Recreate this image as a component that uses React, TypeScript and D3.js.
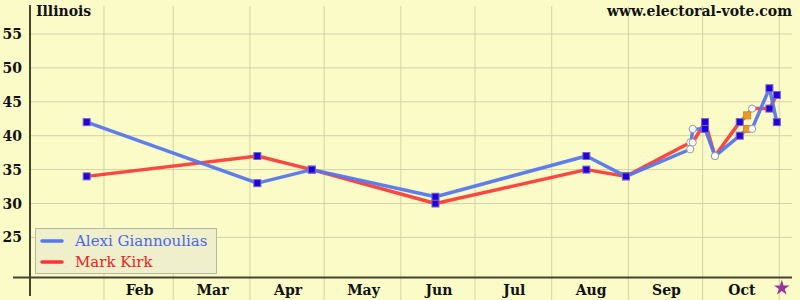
import React from "react";
import * as d3 from "d3";

const title = "Illinois";
const site = "www.electoral-vote.com";
const pollDates = ["2010-01-25","2010-04-04","2010-04-26","2010-06-15","2010-08-15","2010-08-31","2010-09-26","2010-09-27","2010-10-02","2010-10-06","2010-10-16","2010-10-19","2010-10-21","2010-10-28","2010-10-31"];
const giannoulias = [42,33,35,31,37,34,38,41,41,37,40,41,41,47,42];
const kirk = [34,37,35,30,35,34,39,39,42,37,42,43,44,44,46];
const pollType = ["square","square","square","square","square","square","circle","circle","square","circle","square","orange","circle","square","square"];
const yTicks = [25,30,35,40,45,50,55];
const monthLabels = ["Feb","Mar","Apr","May","Jun","Jul","Aug","Sep","Oct"];
const monthStarts = ["2010-02-01","2010-03-01","2010-04-01","2010-05-01","2010-06-01","2010-07-01","2010-08-01","2010-09-01","2010-10-01","2010-11-01"];
const electionDay = "2010-11-02";
const seriesNames = ["Alexi Giannoulias","Mark Kirk"];

const parse = (s: string) => { const [y,m,d] = s.split("-").map(Number); return new Date(Date.UTC(y, m-1, d)); };

const W = 800, H = 300;
const BG = "#fbfbc8";
const GRID = "#d2d2a8";
const AXIS = "#444433";
const BLUE = "#5577ee";
const RED = "#ff3333";
const FONT = "'DejaVu Serif', serif";

export default function App() {
  const x = d3.scaleUtc().domain([parse("2010-01-01"), parse("2010-11-01")]).range([27.3, 779.3]);
  const y = d3.scaleLinear().domain([25, 55]).range([237.4, 34]);
  const axisY = 277.5;
  const axisX = 30;
  const dates = pollDates.map(parse);
  const line = d3.line<number>().x((_, i) => x(dates[i])).y(v => y(v));

  const marker = (type: string, cx: number, cy: number, key: string) => {
    if (type === "circle") return <circle key={key} cx={cx} cy={cy} r={3.6} fill="#ffffff" stroke="#999999" strokeWidth={1} />;
    const fill = type === "orange" ? "#ee9922" : "#2200dd";
    const stroke = type === "orange" ? "#cc8833" : "#7766bb";
    return <rect key={key} x={cx - 3.5} y={cy - 3.5} width={7} height={7} fill={fill} stroke={stroke} strokeWidth={1} />;
  };

  const star = d3.symbol().type(d3.symbolStar).size(75)();

  return (
    <svg width={W} height={H} style={{ position: "fixed", left: 0, top: 0 }} fontFamily={FONT}>
      <rect x={0} y={0} width={W} height={H} fill={BG} />
      {yTicks.map(t => (
        <line key={"hg" + t} x1={axisX} x2={792} y1={y(t)} y2={y(t)} stroke={GRID} strokeWidth={1} />
      ))}
      {monthStarts.map(m => (
        <line key={"vg" + m} x1={x(parse(m))} x2={x(parse(m))} y1={6} y2={300} stroke={GRID} strokeWidth={1} />
      ))}
      <line x1={axisX} x2={axisX} y1={5} y2={296} stroke={AXIS} strokeWidth={2} />
      <line x1={13} x2={792} y1={axisY} y2={axisY} stroke={AXIS} strokeWidth={2} />
      {yTicks.map(t => (
        <text key={"yt" + t} x={22} y={y(t) + 5} textAnchor="end" fontSize={14} fontWeight="bold" fill="#111">{t}</text>
      ))}
      {monthLabels.map((m, i) => {
        const a = x(parse(monthStarts[i])), b = x(parse(monthStarts[i + 1]));
        return <text key={"ml" + m} x={(a + b) / 2 + 1} y={295} textAnchor="middle" fontSize={14} fontWeight="bold" fill="#111">{m}</text>;
      })}
      <path d={star || ""} transform={`translate(${x(parse(electionDay))},${288})`} fill="#993399" />
      <text x={36} y={16} fontSize={14} fontWeight="bold" fill="#111">{title}</text>
      <text x={792} y={16} textAnchor="end" fontSize={14} fontWeight="bold" fill="#111">{site}</text>

      <path d={line(kirk) || ""} fill="none" stroke={RED} strokeWidth={3.5} strokeOpacity={0.9} strokeLinejoin="round" />
      <path d={line(giannoulias) || ""} fill="none" stroke={BLUE} strokeWidth={3.5} strokeOpacity={0.95} strokeLinejoin="round" />
      {dates.map((d, i) => marker(pollType[i], x(d), y(kirk[i]), "k" + i))}
      {dates.map((d, i) => marker(pollType[i], x(d), y(giannoulias[i]), "g" + i))}

      <rect x={35.5} y={228.5} width={181} height={45} fill="#efefcc" stroke="#b8b8a0" strokeWidth={1} />
      <line x1={42} x2={62} y1={241} y2={241} stroke={BLUE} strokeWidth={3.5} strokeLinecap="round" />
      <line x1={42} x2={62} y1={262} y2={262} stroke={RED} strokeWidth={3.5} strokeLinecap="round" />
      <text x={75} y={246} fontSize={15} fontFamily="'DejaVu Serif'" fill="#4a66ee">{seriesNames[0]}</text>
      <text x={75} y={267} fontSize={15} fontFamily="'DejaVu Serif'" fill="#ee2222">{seriesNames[1]}</text>
    </svg>
  );
}
